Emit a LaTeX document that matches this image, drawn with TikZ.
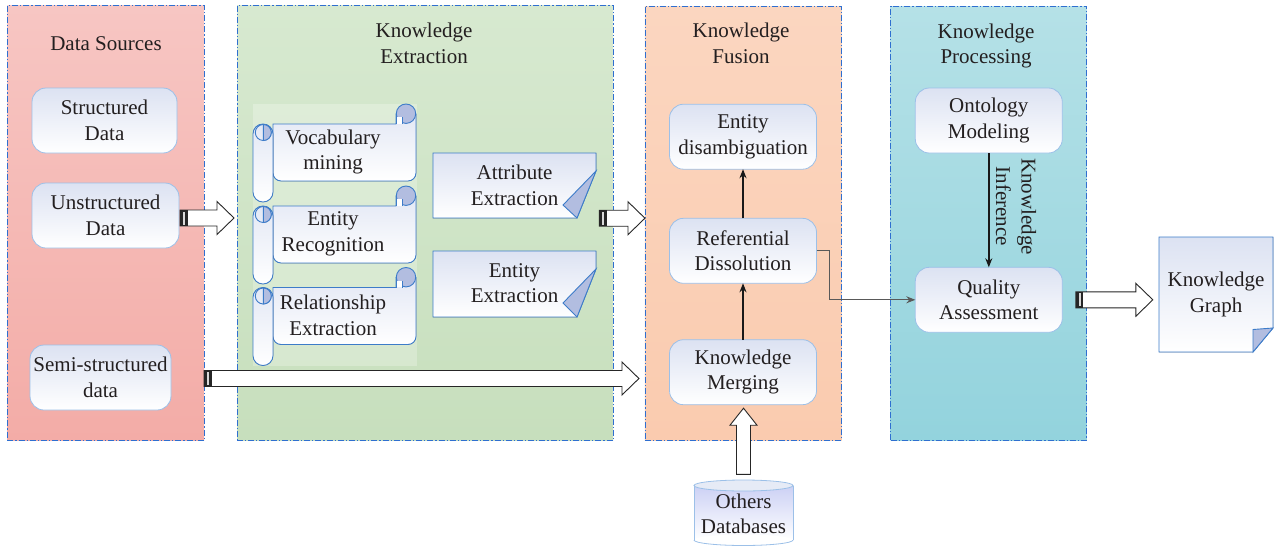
\documentclass[tikz,border=0pt]{standalone}
\usepackage{fontspec}
\setmainfont{Liberation Serif}
\usetikzlibrary{calc,arrows.meta}
\definecolor{dstop}{HTML}{F7C6C3}
\definecolor{dsbot}{HTML}{F3ACA7}
\definecolor{ketop}{HTML}{D7E9D0}
\definecolor{kebot}{HTML}{C7DFBD}
\definecolor{kftop}{HTML}{FBD6C0}
\definecolor{kfbot}{HTML}{FACBAF}
\definecolor{kptop}{HTML}{B5E1E7}
\definecolor{kpbot}{HTML}{93D3DD}
\definecolor{panelblue}{HTML}{2F6FD0}
\definecolor{boxtop}{HTML}{DCE2F2}
\definecolor{boxline}{HTML}{9CC0E8}
\definecolor{scrline}{HTML}{3D7CC9}
\definecolor{curlfill}{HTML}{B2BDE0}
\definecolor{txt}{HTML}{231F20}
\begin{document}
\begin{tikzpicture}[x=1pt,y=-1pt,
  font=\fontsize{21}{25.5}\selectfont, text=txt,
  panel/.style={draw=panelblue, line width=0.9pt, dash pattern=on 6pt off 2pt on 1.2pt off 2pt, inner sep=0pt, outer sep=0pt},
  box/.style={draw=boxline, line width=0.8pt, rounded corners=14pt, top color=boxtop, bottom color=white, minimum width=147pt, minimum height=65pt, align=center, inner sep=1pt, outer sep=0pt},
  scrollp/.style={draw=scrline, line width=0.9pt, top color=boxtop!80, bottom color=white},
  curlp/.style={draw=scrline, line width=0.9pt, fill=curlfill},
  pagep/.style={draw=scrline, line width=0.9pt, top color=boxtop, bottom color=white},
  barrow/.style={draw=black!85, fill=white, line width=0.9pt},
  conn/.style={draw=black!90, line width=1.4pt, -{Stealth[length=9pt,width=7pt]}},
  gconn/.style={draw=black!65, line width=1.1pt, -{Stealth[length=9pt,width=7pt]}},
  lbl/.style={align=center, inner sep=0pt}
]
\useasboundingbox (0,0) rectangle (1274,546);

% ---------- panels ----------
\node[panel, top color=dstop, bottom color=dsbot, minimum width=196.7pt, minimum height=435pt] (ds) at (105.7,223) {};
\node[panel, top color=ketop, bottom color=kebot, minimum width=376pt, minimum height=435pt] (ke) at (425,223) {};
\node[panel, top color=kftop, bottom color=kfbot, minimum width=196.7pt, minimum height=434pt] (fu) at (743.3,223) {};
\node[panel, top color=kptop, bottom color=kpbot, minimum width=196pt, minimum height=434pt] (kp) at (988.7,223) {};

% titles
\node[lbl] (tds) at (106,43.5) {Data Sources};
\node[lbl] (tke) at (424,43.3) {Knowledge\\Extraction};
\node[lbl] (tfu) at (741,43.3) {Knowledge\\Fusion};
\node[lbl] (tkp) at (986,45.8) {Knowledge\\Processing};

% ---------- data sources ----------
\node[box, minimum width=145pt] (struct) at (104.5,120.5) {Structured\\Data};
\node[box] (unstr) at (105.5,215.5) {Unstructured\\Data};
\node[box, minimum width=141pt] (semi) at (100.5,377.5) {Semi-structured\\data};

% ---------- knowledge extraction ----------
\fill[white, opacity=0.25] (253,104) rectangle (417,366);

\newcommand\scrollshape[3]{%
  \filldraw[scrollp] (273,#2+20) -- (396,#2+20) -- (396,#2+10) -- (416,#2+10)
     {[rounded corners=8pt] -- (416,#2+77) -- (273,#2+77)} -- cycle;
  \filldraw[curlp] (406,#2+9.7) circle (9.7);
  \fill[white] (396.6,#2+13) rectangle (402,#2+19.6);
  \draw[draw=scrline, line width=0.9pt] (402,#2+13) -- (402,#2+20);
  \draw[draw=scrline, line width=0.9pt] (396,#2+10) -- (396,#2+20);
  \filldraw[scrollp, rounded corners=9.9pt] (253,#2+20) rectangle (273,#2+98);
  \draw[draw=scrline, line width=0.9pt] (263.3,#2+28.5) circle (8);
  \filldraw[curlp] (263.3,#2+20.5) arc[start angle=-90,end angle=90,radius=8] -- cycle;
  \node[lbl] (#1) at (333,#2+48) {#3};
}
\scrollshape{vocab}{104}{Vocabulary\\mining}
\scrollshape{entrec}{186}{Entity\\Recognition}
\scrollshape{relex}{267.5}{Relationship\\Extraction}

\filldraw[pagep] (433,153) -- (596,153) -- (596,171) -- (577,218) -- (433,218) -- cycle;
\filldraw[curlp] (596,171) -- (563,205) -- (577,218) -- cycle;
\node[lbl, minimum width=163pt, minimum height=65pt] (attr) at (514.5,185.5) {Attribute\\Extraction};

\filldraw[pagep] (433,251) -- (596,251) -- (596,269) -- (577,317) -- (433,317) -- cycle;
\filldraw[curlp] (596,269) -- (563,303) -- (577,317) -- cycle;
\node[lbl, minimum width=163pt, minimum height=66pt] (entex) at (514.5,283) {Entity\\Extraction};

% ---------- knowledge fusion ----------
\node[box] (entdis) at (743,136.7) {Entity\\disambiguation};
\node[box] (ref) at (743,250.8) {Referential\\Dissolution};
\node[box] (merge) at (743,372.2) {Knowledge\\Merging};

% ---------- knowledge processing ----------
\node[box] (onto) at (988.8,120.5) {Ontology\\Modeling};
\node[box] (qa) at (988.8,299.8) {Quality\\Assessment};
\node[lbl, rotate=-90] (ki) at (1016,206.5) {Knowledge\\Inference};

% ---------- knowledge graph ----------
\filldraw[pagep] (1159,237) -- (1273,237) -- (1273,328) -- (1253,352) -- (1159,352) -- cycle;
\filldraw[curlp] (1273,328) -- (1253,329.5) -- (1253,352) -- cycle;
\node[lbl, minimum width=114pt, minimum height=115pt] (kg) at (1216,294.5) {Knowledge\\Graph};

% ---------- others databases ----------
\fill[top color=boxtop!90!blue!90, bottom color=white] (694,485.5) rectangle (793,540);
\fill[white] (743.5,540) ellipse [x radius=49.5, y radius=5.5];
\begin{scope}
  \clip (680,540) rectangle (810,560);
  \draw[boxline, line width=0.8pt] (743.5,540) ellipse [x radius=49.5, y radius=5.5];
\end{scope}
\draw[boxline, line width=0.8pt] (694,485.5) -- (694,540) (793,485.5) -- (793,540);
\filldraw[draw=boxline, line width=0.8pt, fill=boxtop!70] (743.5,485.5) ellipse [x radius=49.5, y radius=5.5];
\node[lbl, minimum width=99pt, minimum height=60pt] (db) at (743.5,514) {Others\\Databases};

% ---------- thin connectors ----------
\draw[conn] (merge.north) -- (ref.south);
\draw[conn] (ref.north) -- (entdis.south);
\draw[conn] (onto.south) -- (qa.north);
\draw[gconn] (ref.east) -- ++(13,0) |- (qa.west);

% ---------- block arrows ----------
\newcommand\harrow[2]{%
  \filldraw[barrow] let \p1=#1, \p2=#2 in
    (\x1,\y1-8pt) -- (\x2-17pt,\y1-8pt) -- (\x2-17pt,\y1-16.5pt) -- (\x2,\y1)
    -- (\x2-17pt,\y1+16.5pt) -- (\x2-17pt,\y1+8pt) -- (\x1,\y1+8pt) -- cycle;
  \fill[black!85] let \p1=#1 in (\x1,\y1-8pt) rectangle (\x1+7.5pt,\y1+8pt);
  \fill[black!15] let \p1=#1 in (\x1+3pt,\y1-6.5pt) rectangle (\x1+5pt,\y1+6.5pt);
}
\harrow{($(unstr.east)+(1,2.5)$)}{($(ke.west |- unstr.east)+(-3,2.5)$)}
\harrow{($(attr.south east)+(3,0)$)}{(fu.west |- attr.south)}
\harrow{($(ds.east |- semi.east)+(0,1)$)}{($(fu.west |- semi.east)+(-6,1)$)}
\harrow{($(qa.east)+(13.5,0)$)}{($(kg.west |- qa.east)+(-6,0)$)}

\filldraw[barrow] let \p1=($(db.north)+(0,-9.5)$), \p2=($(merge.south)+(0,3.5)$) in
  (\x1-7pt,\y1) -- (\x1-7pt,\y2-17pt) -- (\x1-13.5pt,\y2-17pt) -- (\x1,\y2)
  -- (\x1+13.5pt,\y2-17pt) -- (\x1+7pt,\y2-17pt) -- (\x1+7pt,\y1) -- cycle;
\end{tikzpicture}
\end{document}
